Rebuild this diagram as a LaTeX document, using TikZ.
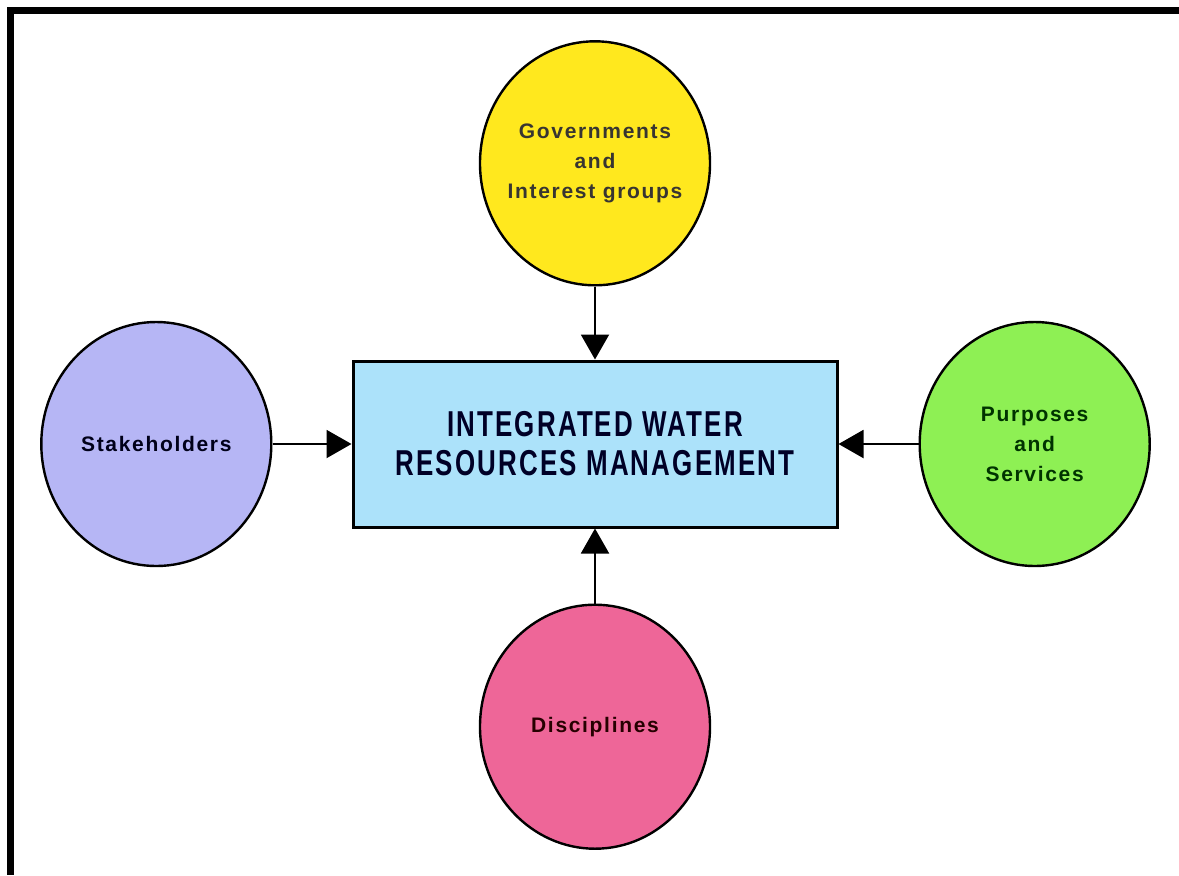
\documentclass[tikz,border=0pt]{standalone}
\usepackage{fontspec}
\setmainfont{Liberation Sans}
\newfontfamily\boxfont[FakeStretch=0.72,LetterSpace=6]{Liberation Sans}
\newfontfamily\circfont[LetterSpace=8]{Liberation Sans}
\usepackage{xcolor}
\usetikzlibrary{positioning,arrows.meta,shapes.geometric}
\definecolor{iwblue}{RGB}{172,226,250}
\definecolor{govyellow}{RGB}{255,232,30}
\definecolor{stakeblue}{RGB}{182,182,245}
\definecolor{purpgreen}{RGB}{142,240,84}
\definecolor{discpink}{RGB}{238,102,152}

\begin{document}
\begin{tikzpicture}[x=0.5pt,y=-0.5pt,
  c/.style={ellipse,draw,line width=1.2pt,minimum width=115pt,minimum height=122pt,inner sep=0pt,align=center,font=\circfont\bfseries\fontsize{10.5}{15}\selectfont},
  b/.style={draw,line width=1.5pt,minimum width=242pt,minimum height=83pt,align=center,fill=iwblue,text=black!85!blue,font=\boxfont\bfseries\fontsize{18}{19.5}\selectfont},
  >={Triangle[length=12.5pt,width=14pt]}]
\useasboundingbox (0,0) rectangle (1179,875);
% frame on top and left
\fill (7,7) rectangle (1179,14);
\fill (7,7) rectangle (14,875);
\node[b] (iwrm) at (595,444) {INTEGRATED WATER\\RESOURCES MANAGEMENT};
\node[c,fill=govyellow,text=black!90!yellow,inner xsep=-4pt,above=36.5pt of iwrm] (gov) {Governments\\and\\Interest groups};
\node[c,fill=stakeblue,text=black!90!blue,left=39.5pt of iwrm] (stake) {Stakeholders};
\node[c,fill=purpgreen,text=black!80!green,right=40pt of iwrm] (purp) {Purposes\\and\\Services};
\node[c,fill=discpink,text=black!85!red,below=37.5pt of iwrm] (disc) {Disciplines};
\draw[->,line width=1pt] (gov)--(iwrm); \draw[->,line width=1pt] (stake)--(iwrm);
\draw[->,line width=1pt] (purp)--(iwrm); \draw[->,line width=1pt] (disc)--(iwrm);
\end{tikzpicture}
\end{document}
